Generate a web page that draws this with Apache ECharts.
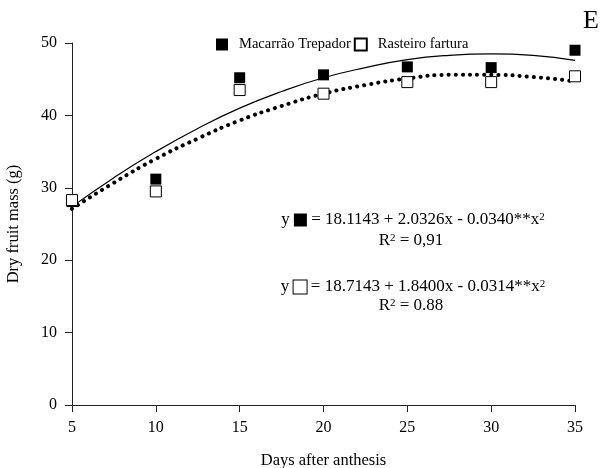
<!DOCTYPE html>
<html>
<head>
<meta charset="utf-8">
<script src="https://cdn.jsdelivr.net/npm/echarts@6/dist/echarts.min.js"></script>
<style>
  html, body { margin: 0; padding: 0; background: #fff; }
  #chart { width: 606px; height: 468px; }
</style>
</head>
<body>
<div id="chart"></div>
<script>
const days = [5, 10, 15, 20, 25, 30, 35];
const macarrao = [28.1, 31.2, 45.2, 45.6, 46.7, 46.6, 49.0];
const rasteiro = [28.3, 29.5, 43.5, 43.0, 44.6, 44.6, 45.4];
// fitted curves, every 2.5 days
const fitDays = [5, 7.5, 10, 12.5, 15, 17.5, 20, 22.5, 25, 27.5, 30, 32.5, 35];
const macarraoFit = [27.4, 31.4, 35.0, 38.2, 41.0, 43.3, 45.2, 46.6, 47.7, 48.3, 48.5, 48.3, 47.6];
const rasteiroFit = [27.1, 30.7, 34.0, 36.8, 39.3, 41.3, 43.0, 44.2, 45.1, 45.6, 45.6, 45.3, 44.7];

const font = 'Liberation Serif';
const pair = (xs, ys) => xs.map((x, i) => [x, ys[i]]);

const chart = echarts.init(document.getElementById('chart'));

const eqStyle = {
  font: '17px "Liberation Serif"',
  fill: '#000',
  textAlign: 'center',
  textVerticalAlign: 'middle',
  rich: {
    sup: { fontSize: 11, fontFamily: font, verticalAlign: 'top', padding: [0, 0, 6, 0] },
    f: { width: 13, height: 13, backgroundColor: '#000' },
    o: { width: 13, height: 13, backgroundColor: '#fff', borderColor: '#000', borderWidth: 1 }
  }
};

const option = {
  animation: false,
  textStyle: { fontFamily: font, color: '#000' },
  grid: { left: 72, right: 31, top: 43, bottom: 63, outerBoundsMode: 'none' },
  legend: {
    top: 32,
    left: 211,
    itemWidth: 12,
    itemHeight: 12,
    itemGap: 3,
    textStyle: { fontFamily: font, fontSize: 14.5, color: '#000', padding: [0, 0, 0, 6] },
    data: [
      { name: 'Macarrão Trepador', icon: 'rect' },
      { name: 'Rasteiro fartura', icon: 'rect' }
    ]
  },
  xAxis: {
    type: 'value',
    min: 5, max: 35, interval: 5,
    name: 'Days after anthesis',
    nameLocation: 'middle',
    nameGap: 47,
    nameTextStyle: { fontFamily: font, fontSize: 16.5, color: '#000' },
    axisLine: { lineStyle: { color: '#222', width: 1 } },
    axisTick: { show: true, length: 7, lineStyle: { color: '#222' } },
    axisLabel: { fontFamily: font, fontSize: 16, color: '#000', margin: 15 },
    splitLine: { show: false }
  },
  yAxis: {
    type: 'value',
    min: 0, max: 50, interval: 10,
    name: 'Dry fruit mass (g)',
    nameLocation: 'middle',
    nameGap: 50,
    nameTextStyle: { fontFamily: font, fontSize: 16.5, color: '#000' },
    axisLine: { show: true, lineStyle: { color: '#222', width: 1 } },
    axisTick: { show: true, length: 7, lineStyle: { color: '#222' } },
    axisLabel: { fontFamily: font, fontSize: 16, color: '#000', margin: 15 },
    splitLine: { show: false }
  },
  series: [
    {
      name: 'fit1',
      type: 'line',
      smooth: true,
      symbol: 'none',
      data: pair(fitDays, macarraoFit),
      lineStyle: { color: '#000', width: 1.2 },
      z: 2
    },
    {
      name: 'fit2',
      type: 'line',
      smooth: true,
      symbol: 'none',
      data: pair(fitDays, rasteiroFit),
      lineStyle: { color: '#000', width: 4, type: [0.1, 7], cap: 'round' },
      z: 2
    },
    {
      name: 'Macarrão Trepador',
      type: 'scatter',
      symbol: 'rect',
      symbolSize: 11,
      data: pair(days, macarrao),
      itemStyle: { color: '#000', opacity: 1 },
      z: 3
    },
    {
      name: 'Rasteiro fartura',
      type: 'scatter',
      symbol: 'rect',
      symbolSize: 11,
      data: pair(days, rasteiro),
      itemStyle: { color: '#fff', borderColor: '#000', borderWidth: 1, opacity: 1 },
      z: 4
    }
  ],
  graphic: [
    {
      type: 'text',
      left: 583, top: 8,
      style: { text: 'E', font: '26px "Liberation Serif"', fill: '#000' }
    },
    {
      type: 'text',
      x: 413, y: 220,
      style: Object.assign({}, eqStyle, { text: 'y {f|} = 18.1143 + 2.0326x - 0.0340**x{sup|2}' })
    },
    {
      type: 'text',
      x: 411, y: 241,
      style: Object.assign({}, eqStyle, { text: 'R{sup|2} = 0,91' })
    },
    {
      type: 'text',
      x: 413, y: 287,
      style: Object.assign({}, eqStyle, { text: 'y {o|} = 18.7143 + 1.8400x - 0.0314**x{sup|2}' })
    },
    {
      type: 'text',
      x: 411, y: 306,
      style: Object.assign({}, eqStyle, { text: 'R{sup|2} = 0.88' })
    }
  ]
};

chart.setOption(option);
</script>
</body>
</html>
